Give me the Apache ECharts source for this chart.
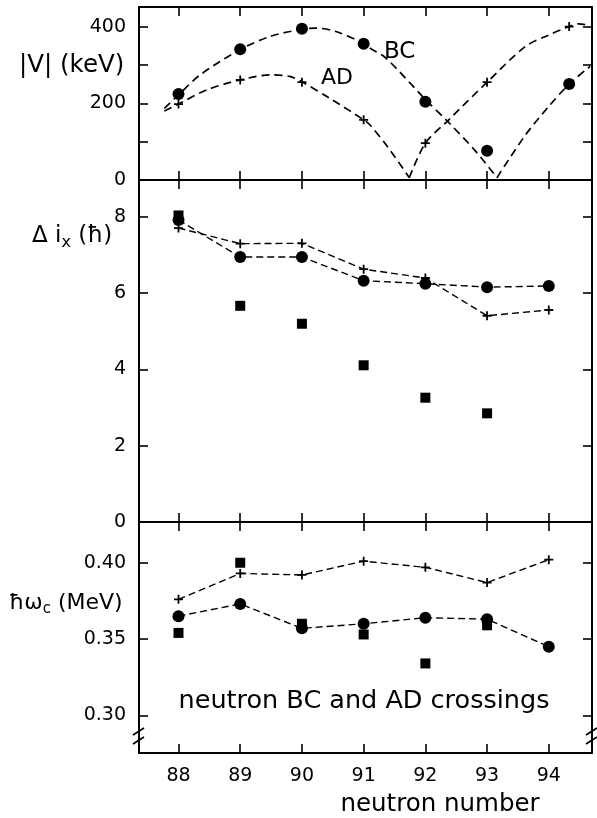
<!DOCTYPE html>
<html>
<head>
<meta charset="utf-8">
<script src="https://cdn.jsdelivr.net/npm/echarts@6/dist/echarts.min.js"></script>
<style>
  html, body { margin: 0; padding: 0; background: #fff; }
  #chart { width: 597px; height: 818px; }
</style>
</head>
<body>
<div id="chart"></div>
<script>
// neutron numbers on the shared x axis
const neutronN = [88, 89, 90, 91, 92, 93, 94]

// top panel: |V| (keV), measured points
const vBCx = [88, 89, 90, 91, 92, 93, 94.33]
const vBC = [224, 341, 394, 355, 204, 76, 250]
const vADx = [88, 89, 90, 91, 92, 93, 94.33]
const vAD = [198, 261, 255, 157, 96, 255, 400]

// top panel: dashed |V| curves (split at the cusp)
const bcCurveA = [[87.77, 187], [88, 222], [88.35, 274], [89, 340], [89.48, 374], [90, 393], [90.23, 396], [90.55, 387], [91, 356], [91.1, 344], [91.36, 318], [92, 210], [92.39, 148], [92.82, 74], [93.16, 6]]
const bcCurveB = [[93.16, 6], [93.62, 117], [94, 192], [94.33, 250], [94.67, 296]]
const adCurveA = [[87.77, 180], [88, 198], [88.46, 235], [89, 261], [89.5, 274], [89.8, 270], [90, 256], [90.45, 213], [91, 157], [91.1, 144], [91.4, 84], [91.74, 6]]
const adCurveB = [[91.74, 6], [92, 96], [92.38, 157], [93, 255], [93.62, 348], [94, 378], [94.33, 400], [94.48, 407], [94.67, 403]]

// middle panel: alignment gain (hbar)
const diBC = [7.92, 6.95, 6.95, 6.33, 6.25, 6.16, 6.19]
const diAD = [7.71, 7.30, 7.31, 6.63, 6.40, 5.41, 5.56]
const diSqX = [88, 89, 90, 91, 92, 93]
const diSq = [8.04, 5.67, 5.20, 4.11, 3.26, 2.85]

// bottom panel: crossing frequency (MeV)
const wAD = [0.376, 0.393, 0.392, 0.401, 0.397, 0.387, 0.402]
const wBC = [0.365, 0.373, 0.357, 0.360, 0.364, 0.363, 0.345]
const wSqX = [88, 89, 90, 91, 92, 93]
const wSq = [0.354, 0.400, 0.360, 0.353, 0.334, 0.359]

// tick labels
const vTicks = [100, 200, 300, 400]
const vLabels = [0, 200, 400]
const diTicks = [2, 4, 6, 8]
const diLabels = [0, 2, 4, 6, 8]
const wTicks = [0.30, 0.35, 0.40]

const FONT = 'DejaVu Sans'
const INK = '#000'
const PLUS = 'path://M4,0H6V4H10V6H6V10H4V6H0V4H4Z'

const zip = (xs, ys) => xs.map((x, i) => [x, ys[i]])

const grids = [
  { left: 139, right: 5, top: 7, height: 173 },
  { left: 139, right: 5, top: 180, height: 342 },
  { left: 139, right: 5, top: 522, height: 231 }
]

function xAxisFor (gi, pos, showLabel) {
  return {
    type: 'value',
    gridIndex: gi,
    position: pos,
    min: 87.36,
    max: 94.7,
    axisLine: { show: true, onZero: false, lineStyle: { color: INK, width: 2 } },
    axisTick: { show: true, inside: true, length: 9, customValues: neutronN, lineStyle: { color: INK, width: 1.6 } },
    axisLabel: {
      show: showLabel,
      customValues: neutronN,
      margin: 14,
      fontSize: 19,
      fontFamily: FONT,
      color: INK
    },
    splitLine: { show: false }
  }
}

function yAxisFor (gi, pos, min, max, ticks, labels, fmt) {
  return {
    type: 'value',
    gridIndex: gi,
    position: pos,
    min: min,
    max: max,
    axisLine: { show: true, onZero: false, lineStyle: { color: INK, width: 2 } },
    axisTick: { show: true, inside: true, length: 9, customValues: ticks, lineStyle: { color: INK, width: 1.6 } },
    axisLabel: {
      show: pos === 'left',
      customValues: labels,
      margin: 13,
      fontSize: 19,
      fontFamily: FONT,
      color: INK,
      formatter: fmt || (v => String(v))
    },
    splitLine: { show: false }
  }
}

const curveStyle = { color: INK, width: 1.7, type: [8, 5] }
const lineStyle = { color: INK, width: 1.4, type: [7, 4] }
const dot = { color: INK, opacity: 1 }

function curve (data) {
  return {
    type: 'line', xAxisIndex: 0, yAxisIndex: 0, data: data,
    smooth: 0.3, showSymbol: false, lineStyle: curveStyle, silent: true, z: 2
  }
}

const series = [
  curve(bcCurveA), curve(bcCurveB), curve(adCurveA), curve(adCurveB),
  { name: 'BC', type: 'scatter', xAxisIndex: 0, yAxisIndex: 0, data: zip(vBCx, vBC), symbol: 'circle', symbolSize: 12, itemStyle: dot, z: 3 },
  { name: 'AD', type: 'scatter', xAxisIndex: 0, yAxisIndex: 0, data: zip(vADx, vAD), symbol: PLUS, symbolSize: 9, itemStyle: dot, z: 3 },

  { name: 'BC', type: 'line', xAxisIndex: 2, yAxisIndex: 2, data: zip(neutronN, diBC), symbol: 'circle', symbolSize: 12, itemStyle: dot, lineStyle: lineStyle },
  { name: 'AD', type: 'line', xAxisIndex: 2, yAxisIndex: 2, data: zip(neutronN, diAD), symbol: PLUS, symbolSize: 9, itemStyle: dot, lineStyle: lineStyle },
  { name: 'sq', type: 'scatter', xAxisIndex: 2, yAxisIndex: 2, data: zip(diSqX, diSq), symbol: 'rect', symbolSize: 10, itemStyle: dot },

  { name: 'AD', type: 'line', xAxisIndex: 4, yAxisIndex: 4, data: zip(neutronN, wAD), symbol: PLUS, symbolSize: 9, itemStyle: dot, lineStyle: lineStyle },
  { name: 'BC', type: 'line', xAxisIndex: 4, yAxisIndex: 4, data: zip(neutronN, wBC), symbol: 'circle', symbolSize: 12, itemStyle: dot, lineStyle: lineStyle },
  { name: 'sq', type: 'scatter', xAxisIndex: 4, yAxisIndex: 4, data: zip(wSqX, wSq), symbol: 'rect', symbolSize: 10, itemStyle: dot }
]

const txt = (x, y, t, size, align, rich) => ({
  type: 'text', x: x, y: y, z: 10,
  style: { text: t, fontSize: size, fontFamily: FONT, fill: INK, align: align || 'left', verticalAlign: 'middle', rich: rich }
})

const breakMark = (x) => ({
  type: 'group', z: 20,
  children: [
    { type: 'rect', shape: { x: x - 5, y: 731, width: 10, height: 10 }, style: { fill: '#fff' } },
    { type: 'line', shape: { x1: x - 6, y1: 735, x2: x + 5, y2: 728 }, style: { stroke: INK, lineWidth: 1.8 } },
    { type: 'line', shape: { x1: x - 6, y1: 744, x2: x + 5, y2: 737 }, style: { stroke: INK, lineWidth: 1.8 } }
  ]
})

const option = {
  backgroundColor: '#fff',
  animation: false,
  grid: grids,
  xAxis: [
    xAxisFor(0, 'bottom', false), xAxisFor(0, 'top', false),
    xAxisFor(1, 'bottom', false), xAxisFor(1, 'top', false),
    xAxisFor(2, 'bottom', true), xAxisFor(2, 'top', false)
  ],
  yAxis: [
    yAxisFor(0, 'left', 0, 451, vTicks, vLabels), yAxisFor(0, 'right', 0, 451, vTicks, vLabels),
    yAxisFor(1, 'left', 0, 8.97, diTicks, diLabels), yAxisFor(1, 'right', 0, 8.97, diTicks, diLabels),
    yAxisFor(2, 'left', 0.2753, 0.4267, wTicks, wTicks, v => v.toFixed(2)),
    yAxisFor(2, 'right', 0.2753, 0.4267, wTicks, wTicks, v => v.toFixed(2))
  ],
  series: series,
  graphic: [
    txt(19, 66, '|V| (keV)', 24.5),
    txt(32, 236, '{a|Δ i}{s|x}{a| (ħ)}', 22, 'left', { a: { fontSize: 23, fontFamily: FONT, fill: INK }, s: { fontSize: 16, fontFamily: FONT, fill: INK, padding: [14, 0, 0, 0] } }),
    txt(9, 603, '{a|ħω}{s|c}{a| (MeV)}', 22, 'left', { a: { fontSize: 22, fontFamily: FONT, fill: INK }, s: { fontSize: 15, fontFamily: FONT, fill: INK, padding: [12, 0, 0, 0] } }),
    txt(384, 52, 'BC', 23),
    txt(321, 78, 'AD', 22),
    txt(364, 701, 'neutron BC and AD crossings', 25.5, 'center'),
    txt(440, 805, 'neutron number', 24.5, 'center'),
    breakMark(139),
    breakMark(592)
  ]
}

const chart = echarts.init(document.getElementById('chart'))
chart.setOption(option)
</script>
</body>
</html>
